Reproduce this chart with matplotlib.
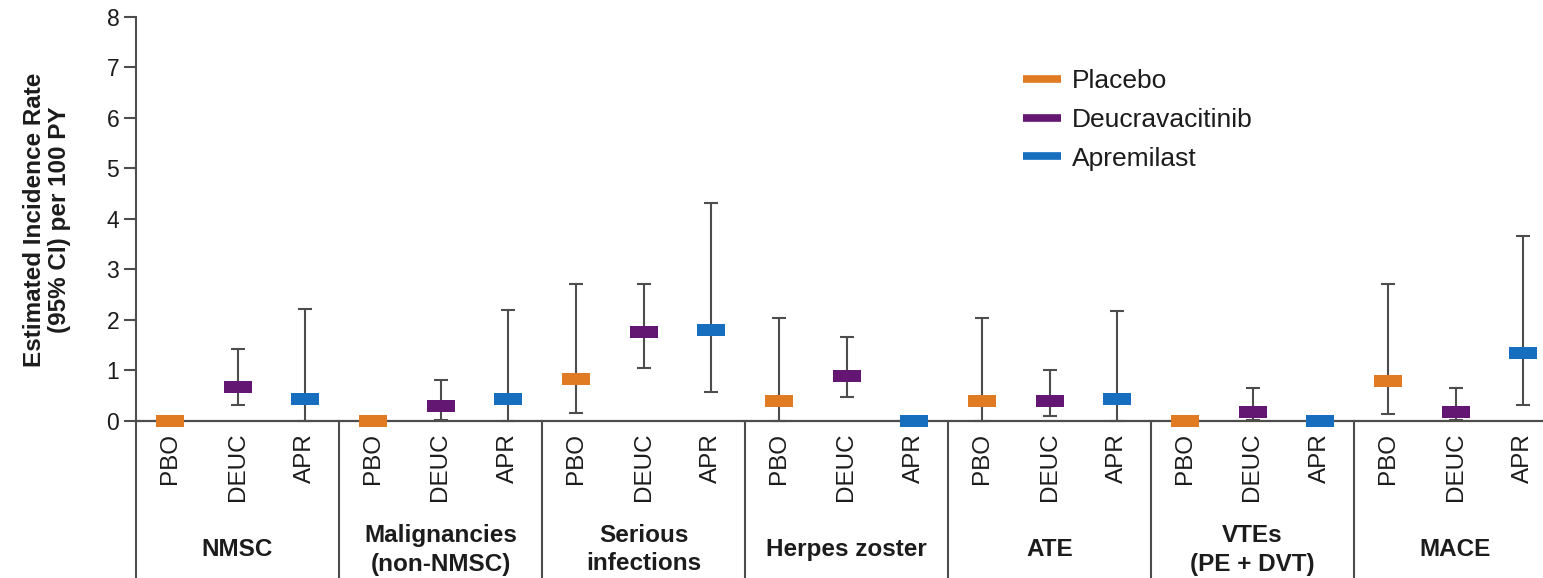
import numpy as np
import matplotlib
matplotlib.use("Agg")
import matplotlib.pyplot as plt
from matplotlib.path import Path
from matplotlib.lines import Line2D

plt.rcParams['font.family'] = ['Liberation Sans', 'DejaVu Sans']

# ---- data -------------------------------------------------------------
categories = ["NMSC", "Malignancies\n(non-NMSC)", "Serious\ninfections",
              "Herpes zoster", "ATE", "VTEs\n(PE + DVT)", "MACE"]
arms = ["PBO", "DEUC", "APR"]
arm_names = ["Placebo", "Deucravacitinib", "Apremilast"]
arm_colors = ["#E07B23", "#631672", "#176EBF"]

nan = np.nan
pbo_rate = [0.00, 0.00, 0.82, 0.40, 0.40, 0.00, 0.78]
pbo_lo   = [nan,  nan,  0.15, 0.00, 0.00, nan,  0.13]
pbo_hi   = [nan,  nan,  2.71, 2.03, 2.03, nan,  2.71]

deuc_rate = [0.67, 0.29, 1.75, 0.89, 0.40, 0.18, 0.18]
deuc_lo   = [0.31, 0.02, 1.04, 0.46, 0.09, 0.02, 0.02]
deuc_hi   = [1.42, 0.80, 2.71, 1.66, 1.01, 0.65, 0.65]

apr_rate = [0.43, 0.43, 1.79, 0.00, 0.43, 0.00, 1.34]
apr_lo   = [0.00, 0.00, 0.56, nan,  0.00, nan,  0.32]
apr_hi   = [2.21, 2.19, 4.32, nan,  2.17, nan,  3.66]

rates = [pbo_rate, deuc_rate, apr_rate]
lows = [pbo_lo, deuc_lo, apr_lo]
highs = [pbo_hi, deuc_hi, apr_hi]

# ---- layout -----------------------------------------------------------
W, H = 1543, 578
fig = plt.figure(figsize=(W / 100, H / 100), dpi=100)

top_px, zero_px, px_per_unit = 16.7, 420.7, 50.5
y_min = -(H - zero_px) / px_per_unit
left_px = 136
unit_px = 203 / 3

ax = fig.add_axes([left_px / W, 0, 1 - left_px / W, (H - top_px) / H])
ax.set_ylim(y_min, 8)
ax.set_xlim(0, (W - left_px) / unit_px)

line_col = "#4d4d4d"
text_col = "#1c1c1c"

for s in ["top", "right", "bottom"]:
    ax.spines[s].set_visible(False)
ax.spines["left"].set_color(line_col)
ax.spines["left"].set_linewidth(1.5)
ax.set_xticks([])
ax.set_yticks(range(9))
ax.tick_params(axis="y", length=9, width=1.5, color=line_col,
               labelsize=16.5, labelcolor=text_col, pad=3)

# baseline and group dividers
ax.axhline(0, color=line_col, lw=1.6, zorder=1)
n_groups = len(categories)
ax.vlines(np.arange(1, n_groups) * 3, y_min, 0, color=line_col, lw=1.5)

# rectangular bar marker
rect = Path([(-0.5, -0.2), (0.5, -0.2), (0.5, 0.2), (-0.5, 0.2), (-0.5, -0.2)],
            [Path.MOVETO, Path.LINETO, Path.LINETO, Path.LINETO, Path.CLOSEPOLY])

for k, (r, lo, hi, col) in enumerate(zip(rates, lows, highs, arm_colors)):
    r = np.asarray(r, float)
    lo = np.asarray(lo, float)
    hi = np.asarray(hi, float)
    x = np.arange(n_groups) * 3 + k + 0.5
    ok = np.isfinite(lo) & np.isfinite(hi)
    ax.errorbar(x[ok], r[ok], yerr=[r[ok] - lo[ok], hi[ok] - r[ok]],
                fmt="none", ecolor=line_col, elinewidth=1.5, capsize=4.7,
                capthick=1.5, zorder=2)
    ax.plot(x, r, ls="none", marker=rect, ms=20, color=col,
            markeredgewidth=0, zorder=3, clip_on=False)
    for xi in x:
        ax.text(xi, -0.24, arms[k], rotation=90, ha="center", va="top",
                fontsize=17.5, color=text_col)

for g, cat in enumerate(categories):
    ax.text(3 * g + 1.5, -2.56, cat, ha="center", va="center",
            fontsize=17.5, fontweight="bold", color=text_col, linespacing=1.28)

fig.text(47 / W, 1 - 220 / H, "Estimated Incidence Rate\n(95% CI) per 100 PY",
         rotation=90, ha="center", va="center", multialignment="center",
         fontsize=17.5, fontweight="bold", color=text_col, linespacing=1.1)

handles = [Line2D([], [], color=c, lw=5.5, solid_capstyle="butt") for c in arm_colors]
fig.legend(handles, arm_names, loc="upper left",
           bbox_to_anchor=(1023 / W, 1 - 69 / H), frameon=False,
           fontsize=19, handlelength=1.45, handletextpad=0.42,
           labelspacing=0.56, borderpad=0, borderaxespad=0, labelcolor=text_col)

fig.savefig("out.png", dpi=100, facecolor="white")
